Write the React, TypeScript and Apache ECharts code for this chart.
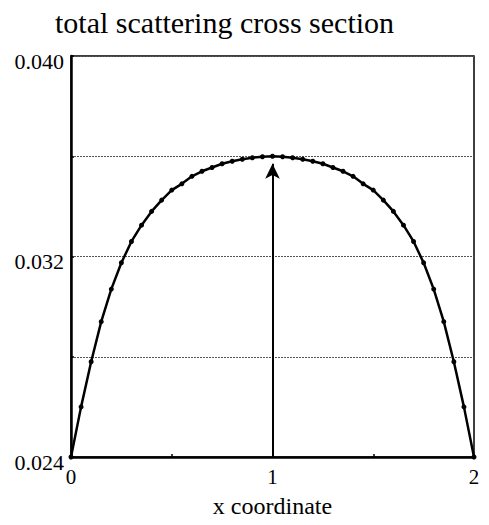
import React, { useEffect, useRef } from "react";
import * as echarts from "echarts";

// x positions along the coordinate (0 … 2, step 0.05)
const xValues: number[] = [
  0, 0.05, 0.1, 0.15, 0.2, 0.25, 0.3, 0.35, 0.4, 0.45, 0.5, 0.55, 0.6, 0.65, 0.7,
  0.75, 0.8, 0.85, 0.9, 0.95, 1.0, 1.05, 1.1, 1.15, 1.2, 1.25, 1.3, 1.35, 1.4,
  1.45, 1.5, 1.55, 1.6, 1.65, 1.7, 1.75, 1.8, 1.85, 1.9, 1.95, 2.0,
];

// total scattering cross section at each x position
const crossSection: number[] = [
  0.024, 0.026, 0.0278, 0.0294, 0.0307, 0.03175, 0.0326, 0.03325, 0.0338,
  0.03425, 0.03465, 0.0349, 0.0352, 0.0354, 0.03555, 0.0357, 0.0358, 0.03588,
  0.03594, 0.03598, 0.036, 0.03598, 0.03594, 0.03588, 0.0358, 0.0357, 0.03555,
  0.0354, 0.0352, 0.0349, 0.03465, 0.03425, 0.0338, 0.03325, 0.0326, 0.03175,
  0.0307, 0.0294, 0.0278, 0.026, 0.024,
];

// arrow marking the centre of the section
const arrowX = 1;
const arrowFrom = 0.024;
const arrowTo = 0.0357;

const yLabelValues: number[] = [0.024, 0.032, 0.04];
const xLabelValues: number[] = [0, 1, 2];

const FONT = "'Liberation Serif', 'Times New Roman', serif";

export default function App() {
  const ref = useRef<HTMLDivElement>(null);

  useEffect(() => {
    if (!ref.current) return;
    const chart = echarts.init(ref.current, undefined, { renderer: "svg" });
    chart.setOption({
      animation: false,
      backgroundColor: "#ffffff",
      title: {
        text: "total scattering cross section",
        left: 50,
        top: 2,
        textStyle: {
          fontFamily: FONT,
          fontWeight: "normal",
          fontSize: 30,
          color: "#000",
        },
      },
      grid: {
        left: 71,
        right: 15,
        top: 56,
        bottom: 68,
        show: true,
        borderColor: "#000",
        borderWidth: 1.5,
      },
      xAxis: {
        type: "value",
        min: 0,
        max: 2,
        interval: 0.5,
        name: "x coordinate",
        nameLocation: "middle",
        nameGap: 37,
        nameTextStyle: { fontFamily: FONT, fontSize: 24, color: "#000" },
        axisLine: { show: true, lineStyle: { color: "#000", width: 2.5 } },
        axisTick: { show: true, inside: true, length: 3, lineStyle: { color: "#000", width: 1.5 } },
        splitLine: { show: false },
        axisLabel: {
          fontFamily: FONT,
          fontSize: 21,
          color: "#000",
          margin: 9,
          formatter: (v: number) =>
            xLabelValues.some((l) => Math.abs(l - v) < 1e-9) ? String(Math.round(v)) : "",
        },
      },
      yAxis: {
        type: "value",
        min: 0.024,
        max: 0.04,
        interval: 0.004,
        axisLine: { show: true, lineStyle: { color: "#000", width: 2.5 } },
        axisTick: { show: true, inside: true, length: 3, lineStyle: { color: "#000", width: 1.5 } },
        splitLine: {
          show: true,
          lineStyle: { color: "#555", width: 1.2, type: [2, 1] },
        },
        axisLabel: {
          fontFamily: FONT,
          fontSize: 22,
          color: "#000",
          margin: 7,
          verticalAlign: "top",
          lineHeight: 10,
          formatter: (v: number) =>
            yLabelValues.some((l) => Math.abs(l - v) < 1e-9) ? v.toFixed(3) : "",
        },
      },
      series: [
        {
          type: "line",
          data: xValues.map((x, i) => [x, crossSection[i]]),
          symbol: "circle",
          symbolSize: 5,
          showSymbol: true,
          itemStyle: { color: "#000" },
          lineStyle: { color: "#000", width: 2.5 },
          markLine: {
            silent: true,
            animation: false,
            symbol: ["none", "arrow"],
            symbolSize: [11, 15],
            label: { show: false },
            lineStyle: { color: "#000", width: 2, type: "solid" },
            data: [
              [
                { coord: [arrowX, arrowFrom] },
                { coord: [arrowX, arrowTo] },
              ],
            ],
          },
        },
      ],
    });
    return () => chart.dispose();
  }, []);

  return <div ref={ref} style={{ width: 489, height: 525, margin: -8 }} />;
}
